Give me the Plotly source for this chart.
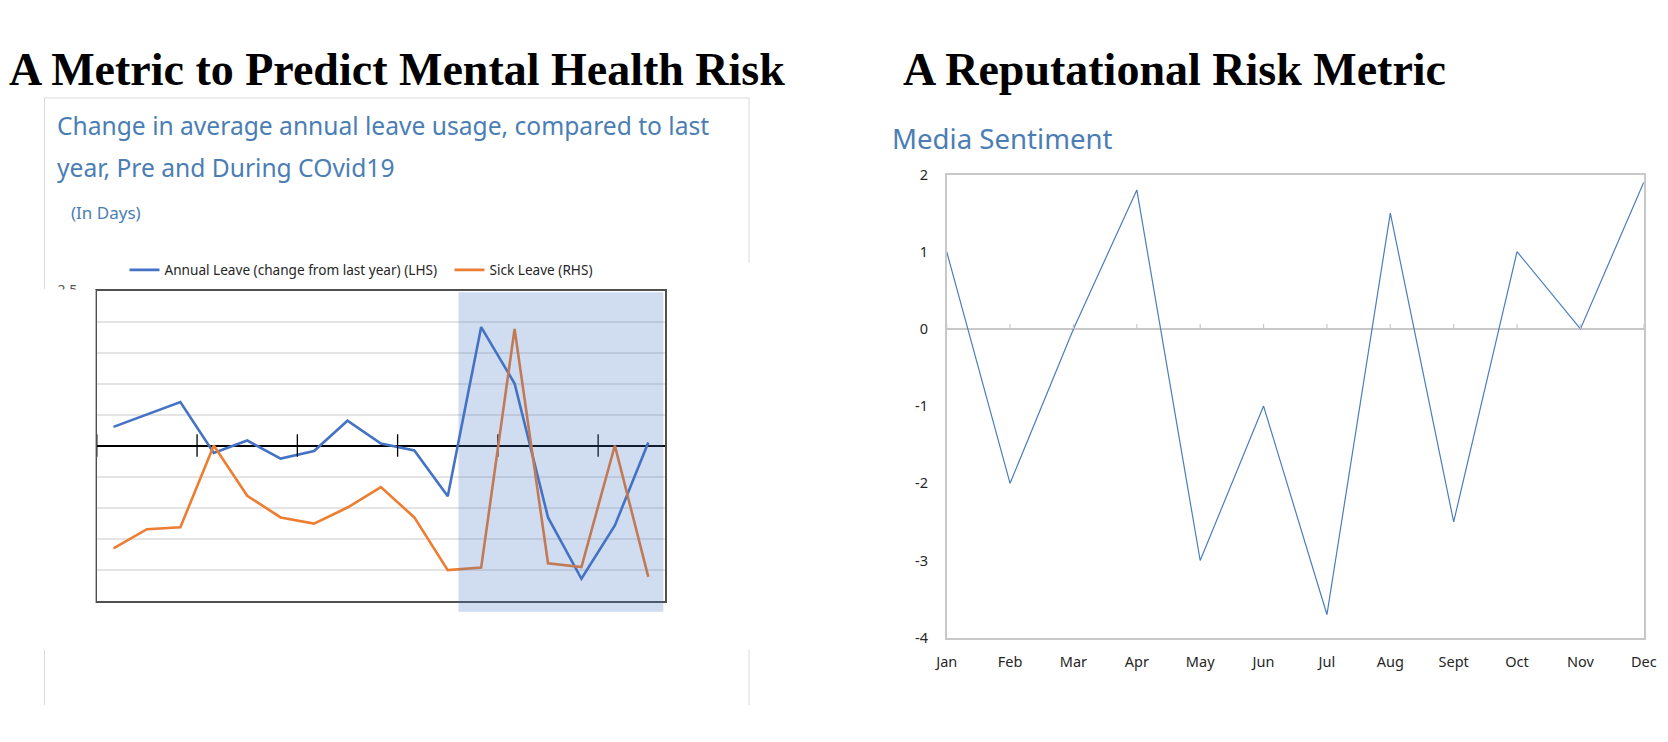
import plotly.graph_objects as go

W, H = 1668, 742

# --- left chart: leave usage (period labels are hidden in the source) ---
periods = list(range(1, 18))
annual_leave = [0.30, 0.50, 0.70, -0.12, 0.08, -0.21, -0.09, 0.40, 0.03,
                -0.08, -0.82, 1.91, 1.00, -1.16, -2.15, -1.29, 0.05]
sick_leave = [-1.66, -1.35, -1.32, 0.00, -0.81, -1.16, -1.26, -1.00, -0.67,
              -1.16, -2.01, -1.97, 1.88, -1.90, -1.96, 0.00, -2.12]
left_grid = [-2.5, -2.0, -1.5, -1.0, -0.5, 0.0, 0.5, 1.0, 1.5, 2.0, 2.5]
left_grid_text = ["", "", "", "", "", "", "", "", "", "", "2.5"]
quarter_ticks = [0.5, 3.5, 6.5, 9.5, 12.5, 15.5]
covid_start, covid_end = 11.32, 17.45

# --- right chart: media sentiment ---
months = ["Jan", "Feb", "Mar", "Apr", "May", "Jun", "Jul", "Aug", "Sept",
          "Oct", "Nov", "Dec"]
sentiment = [1, -2, 0, 1.8, -3, -1, -3.7, 1.5, -2.5, 1, 0, 1.9]
sent_ticks = [-4, -3, -2, -1, 0, 1, 2]
sent_tick_text = ["-4", "-3", "-2", "-1", "0", "1", "2"]


def px(x):
    return x / W


def py(y):
    return 1 - y / H


BLUE = "#4472C4"
ORANGE = "#ED7D31"
TITLE_BLUE = "#4A7EB5"
FRAME_GREY = "#C8C8C8"

fig = go.Figure()
fig.add_trace(go.Scatter(x=periods, y=annual_leave, mode="lines",
                         name="Annual Leave (change from last year) (LHS)",
                         line=dict(color=BLUE, width=2.6)))
fig.add_trace(go.Scatter(x=periods, y=sick_leave, mode="lines", yaxis="y2",
                         name="Sick Leave (RHS)",
                         line=dict(color=ORANGE, width=2.6)))
# cross tick marks sitting on the zero line
fig.add_trace(go.Scatter(x=quarter_ticks, y=[0] * len(quarter_ticks),
                         mode="markers", showlegend=False, hoverinfo="skip",
                         marker=dict(symbol="line-ns", size=16,
                                     line=dict(color="black", width=1.3))))
fig.add_trace(go.Scatter(x=months, y=sentiment, mode="lines", xaxis="x2",
                         yaxis="y3", showlegend=False,
                         line=dict(color="#4A7EBB", width=1.2)))
# small upward ticks on the right chart's zero line
fig.add_trace(go.Scatter(x=months, y=[0] * len(months), mode="markers",
                         xaxis="x2", yaxis="y3", showlegend=False,
                         hoverinfo="skip", marker=dict(opacity=0, size=1),
                         error_y=dict(type="constant", value=0.065,
                                      symmetric=False, valueminus=0, width=0,
                                      thickness=1.2, color=FRAME_GREY)))

left_dom_x = [px(96.8), px(665)]
left_dom_y = [py(600.5), py(290.5)]
right_dom_x = [px(946.7), px(1643.8)]
right_dom_y = [py(637.7), py(174.5)]

fig.update_layout(
    width=W, height=H,
    margin=dict(l=0, r=0, t=0, b=0),
    paper_bgcolor="white", plot_bgcolor="white",
    font=dict(family="Noto Sans", color="#262626"),
    xaxis=dict(domain=left_dom_x, range=[0.5, 17.5], showticklabels=False,
               showgrid=False, zeroline=False, ticks="", automargin=False,
               showline=True, mirror=True, linecolor="#505050", linewidth=1.5),
    yaxis=dict(domain=left_dom_y, range=[-2.5, 2.5], tickvals=left_grid,
               ticktext=left_grid_text, ticklabelstandoff=15, automargin=False,
               tickfont=dict(size=14, color="#595959"),
               showgrid=True, gridcolor="#E4E4E4", gridwidth=1.5,
               zeroline=True, zerolinecolor="black", zerolinewidth=2,
               showline=True, mirror=True, linecolor="#505050", linewidth=1.5),
    yaxis2=dict(overlaying="y", range=[-2.5, 2.5], visible=False),
    xaxis2=dict(domain=right_dom_x, anchor="y3", type="category",
                range=[0, 11], ticks="", showgrid=False, zeroline=False,
                tickfont=dict(size=14.5, color="#262626"), ticklabelstandoff=10,
                automargin=False,
                showline=True, mirror=True, linecolor=FRAME_GREY, linewidth=1.5),
    yaxis3=dict(domain=right_dom_y, anchor="x2", range=[-4, 2],
                tickvals=sent_ticks, ticktext=sent_tick_text,
                tickfont=dict(size=14.5, color="#262626"), ticklabelstandoff=14,
                showgrid=False, zeroline=True, zerolinecolor=FRAME_GREY,
                zerolinewidth=1.5, automargin=False,
                showline=True, mirror=True, linecolor=FRAME_GREY, linewidth=1.5),
    legend=dict(orientation="h", x=px(124.5), xanchor="left", y=py(270),
                yanchor="middle", entrywidth=280, entrywidthmode="pixels",
                font=dict(size=13.6, color="#262626"),
                bgcolor="rgba(0,0,0,0)", itemwidth=30),
    showlegend=True,
)

border = dict(color="#D9D9D9", width=1)
shapes = [
    # covid period shading, drawn over the lines
    dict(type="rect", xref="x domain", yref="y domain",
         x0=(covid_start - 0.5) / 17, x1=(covid_end - 0.5) / 17,
         y0=-0.036, y1=0.994, layer="above", line=dict(width=0),
         fillcolor="rgba(68,114,196,0.25)"),
    # white patch hiding the cropped axis labels
    dict(type="rect", xref="paper", yref="paper", x0=px(38), x1=px(95.6),
         y0=py(612), y1=py(289.5), layer="above", line=dict(width=0),
         fillcolor="white"),
    # light panel frame around the left chart
    dict(type="line", xref="paper", yref="paper", x0=px(44.5), x1=px(749),
         y0=py(98), y1=py(98), line=border),
    dict(type="line", xref="paper", yref="paper", x0=px(44.5), x1=px(44.5),
         y0=py(98), y1=py(289), line=border),
    dict(type="line", xref="paper", yref="paper", x0=px(749), x1=px(749),
         y0=py(98), y1=py(263), line=border),
    dict(type="line", xref="paper", yref="paper", x0=px(44.5), x1=px(44.5),
         y0=py(650), y1=py(705), line=border),
    dict(type="line", xref="paper", yref="paper", x0=px(749), x1=px(749),
         y0=py(650), y1=py(705), line=border),
]
fig.update_layout(shapes=shapes)

serif = dict(family="Liberation Serif", size=46, color="black", weight="bold")
ann = [
    dict(text="A Metric to Predict Mental Health Risk", x=px(7), y=py(69),
         font=serif),
    dict(text="A Reputational Risk Metric", x=px(901), y=py(69), font=serif),
    dict(text="Change in average annual leave usage, compared to last",
         x=px(55), y=py(125.5), font=dict(size=24.6, color=TITLE_BLUE)),
    dict(text="year, Pre and During COvid19", x=px(55), y=py(168),
         font=dict(size=24.6, color=TITLE_BLUE)),
    dict(text="(In Days)", x=px(69), y=py(213),
         font=dict(size=17, color=TITLE_BLUE)),
    dict(text="Media Sentiment", x=px(890), y=py(138),
         font=dict(size=27.6, color=TITLE_BLUE)),
]
for a in ann:
    a.update(xref="paper", yref="paper", xanchor="left", yanchor="middle",
             showarrow=False)
fig.update_layout(annotations=ann)

# drop the default body margin so the page is exactly the figure size
fig.write_html("out.html", config={"displayModeBar": False},
               post_script="document.body.style.margin='0';"
                           "document.body.style.overflow='hidden';")
